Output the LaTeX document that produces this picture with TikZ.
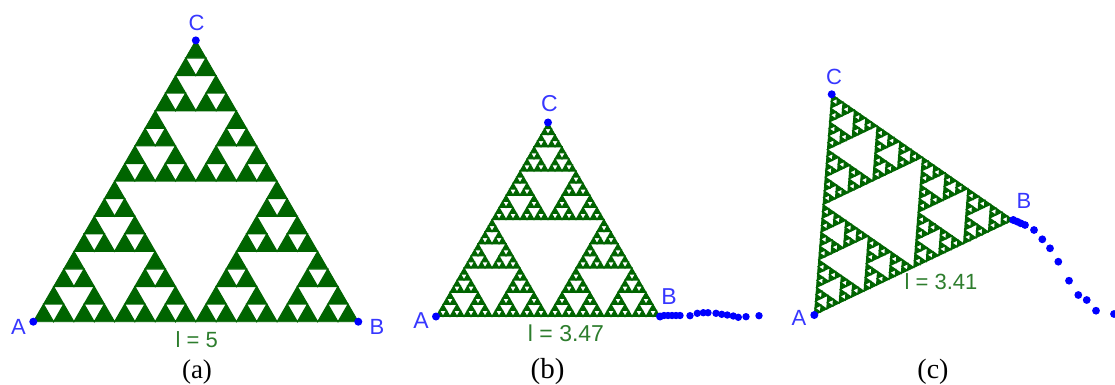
\documentclass[tikz,border=0pt]{standalone}
\usepackage{fontspec}
\setmainfont{Liberation Serif}
\newfontfamily\lblfont{Liberation Sans}
\usetikzlibrary{calc}
\definecolor{fractal}{RGB}{0,100,0}
\definecolor{lengthtext}{RGB}{45,125,45}
\definecolor{pointblue}{RGB}{0,0,255}
\definecolor{labelblue}{RGB}{55,55,255}

\newcommand\sierpholes[5]{%
  \ifnum#2>0\relax
    \begingroup
      \pgfmathsetmacro\sh{#5/2}%
      \pgfmathsetmacro\su{#3+\sh}%
      \pgfmathsetmacro\sv{#4+\sh}%
      \pgfmathsetmacro\wa{1-\su-#4}%
      \pgfmathsetmacro\wb{1-#3-\sv}%
      \pgfmathsetmacro\wc{1-\su-\sv}%
      \filldraw[hole] (barycentric cs:#1A=\wa,#1B=\su,#1C=#4)
        -- (barycentric cs:#1A=\wb,#1B=#3,#1C=\sv)
        -- (barycentric cs:#1A=\wc,#1B=\su,#1C=\sv) -- cycle;
      \edef\sierpnext{%
        \noexpand\sierpholes{#1}{\the\numexpr#2-1\relax}{#3}{#4}{\sh}%
        \noexpand\sierpholes{#1}{\the\numexpr#2-1\relax}{\su}{#4}{\sh}%
        \noexpand\sierpholes{#1}{\the\numexpr#2-1\relax}{#3}{\sv}{\sh}}%
      \sierpnext
    \endgroup
  \fi}

\tikzset{
  hole/.style={fill=white, draw=fractal, line width=1.1pt, line join=miter},
  solidtri/.style={fill=fractal, draw=fractal, line width=0.8pt},
  ptdot/.style={fill=pointblue},
  lbl/.style={text=labelblue, inner sep=0pt, font=\lblfont\fontsize{#1}{#1}\selectfont},
  lenlbl/.style={text=lengthtext, inner sep=0pt, font=\lblfont\fontsize{#1}{#1}\selectfont},
  caption/.style={text=black, inner sep=0pt, font=\fontsize{#1}{#1}\selectfont}
}

\begin{document}
\begin{tikzpicture}[x=1pt,y=-1pt]
\useasboundingbox (0,0) rectangle (1115,385);

% ---------- (a) ----------
\coordinate (aA) at (33.3,321.7);
\coordinate (aB) at (358.3,321.7);
\coordinate (aC) at (195.8,40.4);
\filldraw[solidtri] (aA) -- (aB) -- (aC) -- cycle;
\sierpholes{a}{4}{0}{0}{1}
\foreach \p in {aA,aB,aC} \fill[ptdot] (\p) circle[radius=4];
\node[lbl=22] (aAl) at (18.5,326.5) {A};
\node[lbl=22] (aBl) at (377,326.5) {B};
\node[lbl=22] (aCl) at (196.5,22.5) {C};
\node[lenlbl=22] (al) at (196.7,340) {l = 5};
\node[caption=27] (acap) at (197,372) {(a)};

% ---------- (b) ----------
\coordinate (bA) at (436,316.5);
\coordinate (bB) at (660,316.5);
\coordinate (bC) at (548,122.5);
\filldraw[solidtri] (bA) -- (bB) -- (bC) -- cycle;
\sierpholes{b}{5}{0}{0}{1}
\foreach \x/\y in {664/315.5,668/315.5,672/315.5,676/315.5,680/315.5,690/315.7,697.3/313.3,703.3/312.7,708/312.7,716/313.3,721.7/314.3,727.3/315,733.3/316,738.3/317.3,746/316.7,759/315.7}
  \fill[ptdot] (\x,\y) circle[radius=3.7];
\foreach \p in {bA,bB,bC} \fill[ptdot] (\p) circle[radius=4];
\node[lbl=23] (bAl) at (421,321) {A};
\node[lbl=23] (bBl) at (669,296.7) {B};
\node[lbl=23] (bCl) at (549.5,103.5) {C};
\node[lenlbl=23] (bl) at (566,333) {l = 3.47};
\node[caption=29] (bcap) at (547.5,372) {(b)};

% ---------- (c) ----------
\coordinate (cA) at (814.3,315);
\coordinate (cB) at (1013.3,220);
\coordinate (cC) at (831.7,94.3);
\filldraw[solidtri] (cA) -- (cB) -- (cC) -- cycle;
\sierpholes{c}{5}{0}{0}{1}
\foreach \x/\y in {1017.3/221.7,1020.7/223.3,1025/225,1034/230,1042.3/239.3,1050/248.3,1058.3/261.7,1069/280.7,1078.3/295,1086.7/300,1096/310.7,1114/314}
  \fill[ptdot] (\x,\y) circle[radius=3.9];
\foreach \p in {cA,cB,cC} \fill[ptdot] (\p) circle[radius=4];
\node[lbl=22] (cAl) at (799,318) {A};
\node[lbl=22] (cBl) at (1024,201) {B};
\node[lbl=22] (cCl) at (834,76.5) {C};
\node[lenlbl=22] (cl) at (941,281.3) {l = 3.41};
\node[caption=28] (ccap) at (933,372) {(c)};
\end{tikzpicture}
\end{document}
